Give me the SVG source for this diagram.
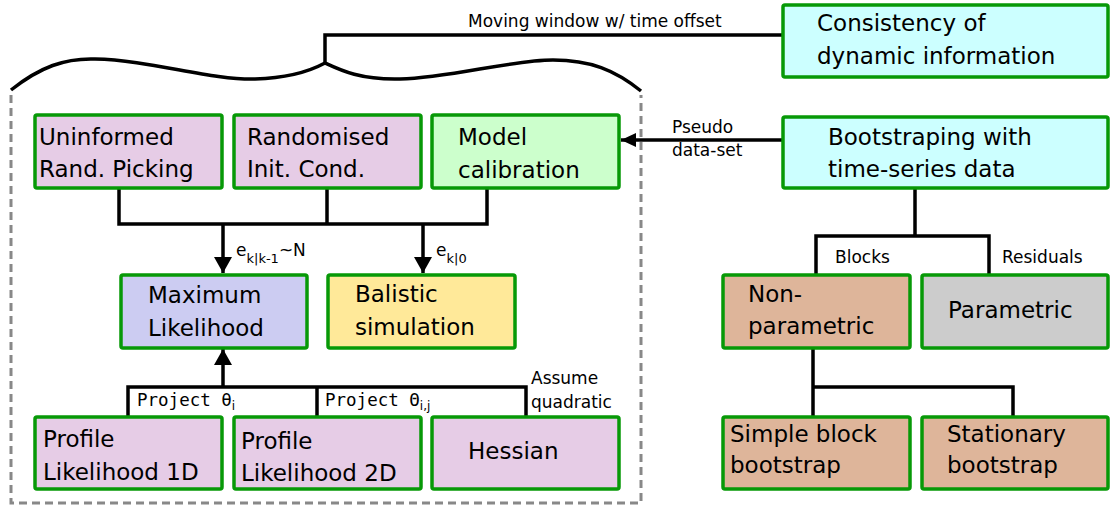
<svg xmlns="http://www.w3.org/2000/svg" width="1110" height="507" viewBox="0 0 1110 507">
<defs>
<style>
.box{stroke:#079907;stroke-width:3.5}
.t{font-family:"DejaVu Sans",Verdana,sans-serif;font-size:23px;fill:#000}
.s{font-family:"DejaVu Sans",Verdana,sans-serif;font-size:17px;fill:#000}
.m{font-family:"DejaVu Sans Mono","Liberation Mono",monospace;font-size:17.5px;fill:#000}
.c{fill:none;stroke:#000;stroke-width:3.5}
.pink{fill:#e6cce6}.green{fill:#ccffcc}.blue{fill:#ccccf2}.yellow{fill:#ffe999}.cyan{fill:#ccffff}.brown{fill:#deb59a}.gray{fill:#cccccc}
</style>
<marker id="ah" markerUnits="userSpaceOnUse" markerWidth="18" markerHeight="18" viewBox="0 0 16 18" refX="16" refY="9" orient="auto"><path d="M0,0 L16,9 L0,18 z" fill="#000"/></marker>
<marker id="ah2" markerUnits="userSpaceOnUse" markerWidth="15" markerHeight="15" viewBox="0 0 15 14" refX="15" refY="7" orient="auto"><path d="M0,0 L15,7 L0,14 z" fill="#000"/></marker>
</defs>
<rect width="1110" height="507" fill="#fff"/>
<g id="frame">
<path d="M11,95 V503 H641 V95" fill="none" stroke="#888" stroke-width="3" stroke-dasharray="8,5"/>
<path d="M11,90 C40,67 65,58 95,59 C150,60 210,80 255,79 C290,78 312,70 325,63 C340,70 360,80 400,79 C450,78 510,60 553,60 C590,60 615,70 641,91" fill="none" stroke="#000" stroke-width="3.5"/>
</g>
<g id="connectors">
<path class="c" d="M325,63 V35 H783"/>
<path class="c" d="M119,189 V224 H487 V189 M327,189 V224"/>
<path class="c" d="M223,224 V273" marker-end="url(#ah)"/>
<path class="c" d="M423,224 V273" marker-end="url(#ah)"/>
<path class="c" d="M128,417 V387 H526 V417 M317,387 V417"/>
<path class="c" d="M223,387 V349" marker-end="url(#ah)"/>
<path class="c" d="M783,140 H621" marker-end="url(#ah2)"/>
<path class="c" d="M915,188 V236 M816,275 V236 H989 V275"/>
<path class="c" d="M813,348 V387 H1013 V417 M813,387 V417"/>
<text class="s" x="468" y="27">Moving window w/ time offset</text>
<text class="s" x="672" y="133">Pseudo</text>
<text class="s" x="672" y="156">data-set</text>
<text class="s" x="236" y="256">e<tspan font-size="13" dy="7">k|k-1</tspan><tspan dy="-7">~N</tspan></text>
<text class="s" x="436" y="256">e<tspan font-size="13" dy="7">k|0</tspan></text>
<text class="m" x="137" y="406">Project θ<tspan font-family="DejaVu Sans,sans-serif" font-size="12" dy="4">i</tspan></text>
<text class="m" x="325" y="406">Project Θ<tspan font-family="DejaVu Sans,sans-serif" font-size="12" dy="4">i,j</tspan></text>
<text class="s" x="531" y="384">Assume</text>
<text class="s" x="531" y="408">quadratic</text>
<text class="s" x="835" y="263">Blocks</text>
<text class="s" x="1002" y="263">Residuals</text>
</g>
<g id="uninformed"><rect class="box pink" x="35" y="115" width="187" height="73" rx="2"/><text class="t" x="39" y="145">Uninformed</text><text class="t" x="39" y="177">Rand. Picking</text></g>
<g id="randomised"><rect class="box pink" x="234" y="115" width="187" height="73" rx="2"/><text class="t" x="247" y="145">Randomised</text><text class="t" x="247" y="177">Init. Cond.</text></g>
<g id="calibration"><rect class="box green" x="432" y="115" width="187" height="73" rx="2"/><text class="t" x="458" y="145">Model</text><text class="t" x="458" y="178">calibration</text></g>
<g id="maxlik"><rect class="box blue" x="121" y="275" width="186" height="73" rx="2"/><text class="t" x="148" y="303">Maximum</text><text class="t" x="148" y="336">Likelihood</text></g>
<g id="balistic"><rect class="box yellow" x="328" y="275" width="187" height="73" rx="2"/><text class="t" x="355" y="302">Balistic</text><text class="t" x="355" y="335">simulation</text></g>
<g id="profile1d"><rect class="box pink" x="35" y="417" width="187" height="72" rx="2"/><text class="t" x="43" y="447">Profile</text><text class="t" x="43" y="480">Likelihood 1D</text></g>
<g id="profile2d"><rect class="box pink" x="234" y="417" width="187" height="72" rx="2"/><text class="t" x="241" y="449">Profile</text><text class="t" x="241" y="481">Likelihood 2D</text></g>
<g id="hessian"><rect class="box pink" x="432" y="417" width="187" height="72" rx="2"/><text class="t" x="468" y="459">Hessian</text></g>
<g id="consistency"><rect class="box cyan" x="783" y="5" width="325" height="72" rx="2"/><text class="t" x="817" y="31">Consistency of</text><text class="t" x="817" y="64">dynamic information</text></g>
<g id="bootstraping"><rect class="box cyan" x="783" y="117" width="325" height="71" rx="2"/><text class="t" x="828" y="145">Bootstraping with</text><text class="t" x="828" y="177">time-series data</text></g>
<g id="nonparametric"><rect class="box brown" x="723" y="275" width="187" height="73" rx="2"/><text class="t" x="748" y="302">Non-</text><text class="t" x="748" y="334">parametric</text></g>
<g id="parametric"><rect class="box gray" x="922" y="275" width="186" height="73" rx="2"/><text class="t" x="948" y="318">Parametric</text></g>
<g id="simpleblock"><rect class="box brown" x="723" y="417" width="187" height="72" rx="2"/><text class="t" x="730" y="442">Simple block</text><text class="t" x="730" y="473">bootstrap</text></g>
<g id="stationary"><rect class="box brown" x="922" y="417" width="186" height="72" rx="2"/><text class="t" x="947" y="442">Stationary</text><text class="t" x="947" y="473">bootstrap</text></g>
</svg>
